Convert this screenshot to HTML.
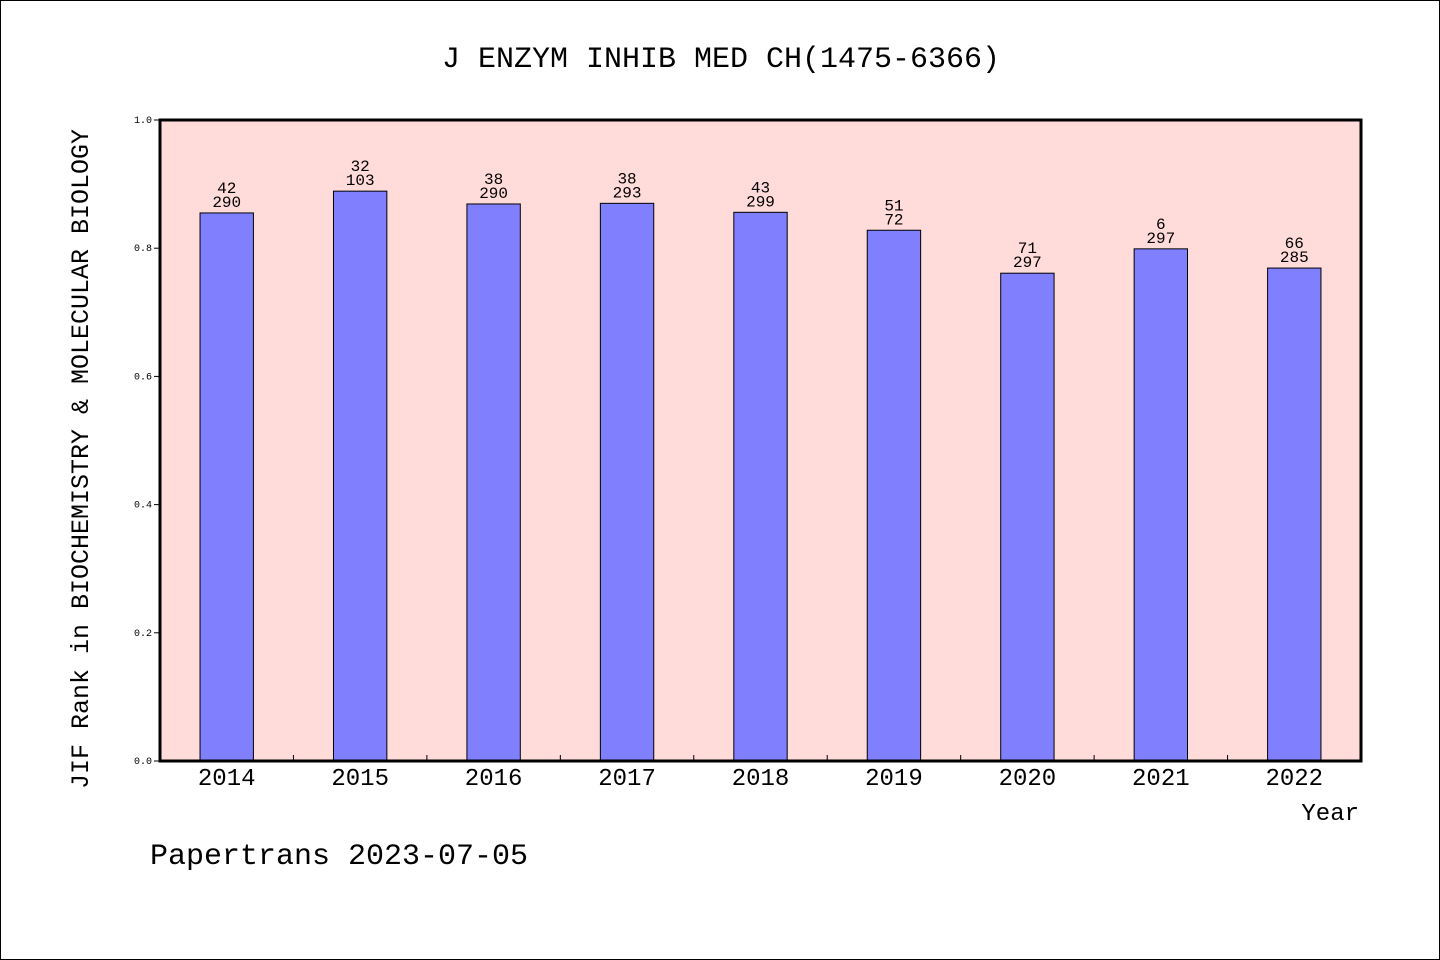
<!DOCTYPE html>
<html><head><meta charset="utf-8"><style>
body{margin:0;background:#fff}
svg{display:block;font-family:"Liberation Mono",monospace}
</style></head><body>
<svg width="1440" height="960" id="c">
<rect x="0.5" y="0.5" width="1439" height="959" fill="#fff" stroke="#000"/>
<text x="721" y="67" text-anchor="middle" font-size="30">J ENZYM INHIB MED CH(1475-6366)</text>
<rect x="160" y="120" width="1201" height="641" fill="#ffdbd9"/>
<g id="bars"></g>
<g id="axes"></g>
<rect x="160" y="120" width="1201" height="641" fill="none" stroke="#000" stroke-width="3"/>
<text transform="translate(88,459) rotate(-90)" text-anchor="middle" font-size="25">JIF Rank in BIOCHEMISTRY &amp; MOLECULAR BIOLOGY</text>
<text x="1359" y="820" text-anchor="end" font-size="24">Year</text>
<text x="150" y="864" font-size="30">Papertrans 2023-07-05</text>
</svg>
<script>
const years=["2014","2015","2016","2017","2018","2019","2020","2021","2022"];
const values=[0.855,0.889,0.869,0.870,0.856,0.828,0.761,0.799,0.769];
const ranks=["42","32","38","38","43","51","71","6","66"];
const totals=["290","103","290","293","299","72","297","297","285"];
const yTicks=[0,0.2,0.4,0.6,0.8,1.0];
const NS="http://www.w3.org/2000/svg";
const X0=160,W=1201,Y0=761,H=641;
const bw=W/years.length;
const y=v=>Y0-v*H;
const xc=i=>X0+bw*(i+0.5);
function mk(t,a,p){const e=document.createElementNS(NS,t);for(const k in a)e.setAttribute(k,a[k]);p.appendChild(e);return e;}
const bars=document.getElementById('bars'),axes=document.getElementById('axes');
years.forEach((yr,i)=>{
 const r=mk('rect',{x:xc(i)-bw*0.2,y:y(values[i]),width:bw*0.4,height:Y0-y(values[i]),fill:'#8080ff',stroke:'#000','stroke-width':1},bars);
 
 
 const t1=mk('text',{x:xc(i),y:y(values[i])-20,'text-anchor':'middle','font-size':16},bars);t1.textContent=ranks[i];
 
 
 const t2=mk('text',{x:xc(i),y:y(values[i])-6,'text-anchor':'middle','font-size':16},bars);t2.textContent=totals[i];
 
 
 const tl=mk('text',{x:xc(i),y:785,'text-anchor':'middle','font-size':24},axes);tl.textContent=yr;
 
 
 if(i>0){const tk=mk('line',{x1:X0+bw*i,x2:X0+bw*i,y1:Y0,y2:Y0-6,stroke:'#000'},axes);
 
 }
});
yTicks.forEach(v=>{
 const l=mk('line',{x1:X0-6,x2:X0,y1:y(v),y2:y(v),stroke:'#000'},axes);
 
 
 const t=mk('text',{x:X0-8,y:y(v)+3,'text-anchor':'end','font-size':10},axes);t.textContent=v.toFixed(1);
 
 
});
</script>
</body></html>
